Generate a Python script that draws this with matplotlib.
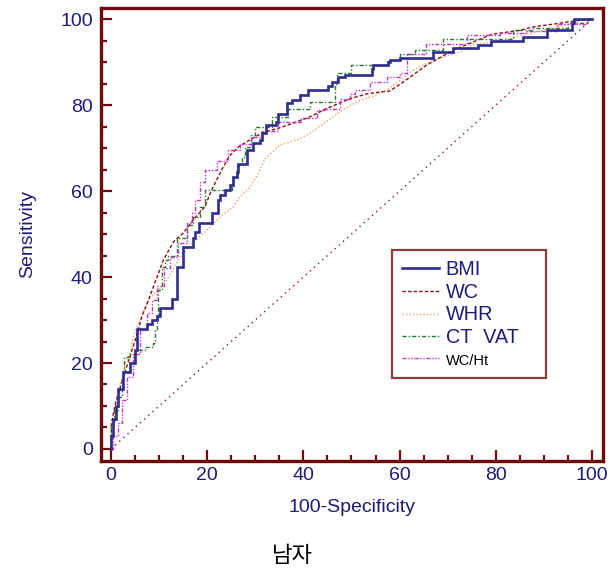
import matplotlib
matplotlib.use("Agg")
import matplotlib.pyplot as plt
from matplotlib.ticker import MultipleLocator

plt.rcParams['font.family'] = ['Liberation Sans', 'DejaVu Sans']

# ---- data ----
bmi_x = [0, 0, 0.5, 1, 1.5, 2.5, 4, 5, 5.5, 7.5, 8.5, 9.5, 10.2, 12.6, 13.7, 15, 17, 17.5, 18.2,
         21, 22.3, 22.7, 23.7, 24.7, 25.4, 26.1, 26.5, 28.2, 29.6, 31, 31.5, 32.2, 34.4, 34.8, 36.5,
         37.6, 39.3, 41, 45.2, 45.9, 47.3, 48.6, 54.2, 54.5, 57.6, 58, 60.1, 67, 71.2, 76.3, 79.1,
         85.7, 90.6, 95.8, 96.2, 100]
bmi_y = [0, 3, 7, 10, 14, 18, 20, 23, 28, 29, 30, 31, 32.7, 35, 42.4, 47, 49, 50.4, 52.5,
         54.8, 57.9, 59, 60.2, 61.4, 63.3, 64.5, 66.4, 69.5, 71.1, 71.9, 73.5, 75.3, 76.1, 78, 80.4,
         81.2, 82.3, 83.5, 84.5, 85.4, 86.5, 87, 88.5, 89.3, 90, 90.5, 90.9, 92.4, 93.2, 94, 95,
         95.9, 97.4, 99, 100, 100]

wc_x = [0, 0.1, 1, 2.2, 3.5, 4.6, 5.5, 6.4, 7.8, 8.8, 10.9, 13, 15, 17.1, 19.5, 20.9, 23, 24.5,
        26.5, 29, 31.5, 35.3, 38.6, 41.2, 44.8, 49.7, 53.5, 58, 60.8, 65.6, 71.2, 75.3, 79.2, 85,
        87.7, 93, 98.9, 100]
wc_y = [0, 6, 11, 15.3, 20, 23.8, 27, 30.8, 34.7, 37.7, 44, 48.2, 50.2, 53.3, 56.3, 60.2, 64.9, 68,
        70.3, 72, 73.6, 74.8, 76.1, 77.2, 79.2, 81.5, 82.7, 83.3, 85.4, 89.3, 92.8, 94.7, 96.5, 97.4,
        98.2, 99, 100, 100]

whr_x = [0, 0.5, 1, 2, 3, 4, 4.6, 6, 8, 11.2, 14, 17, 20, 22.7, 25.4, 26.8, 28.5, 30.6, 32, 35.1,
         38.6, 41, 45.2, 47.6, 51.5, 55, 58, 62.8, 67, 72.6, 75.3, 80.9, 84.3, 90, 96, 100]
whr_y = [0, 5, 10, 15, 20, 22.3, 26.1, 30, 35, 38.5, 44, 48, 51, 54, 56.3, 58.7, 60.4, 64, 67.5, 70.7,
         71.9, 73.2, 76.5, 78.5, 81, 82.3, 84, 88.1, 90.5, 92.4, 94.2, 94.7, 95.9, 97.5, 99, 100]

vat_x = [0, 0, 0.7, 1.5, 2.2, 2.6, 4, 5.3, 7.1, 8.8, 9.2, 9.5, 9.8, 10.5, 11.2, 11.9, 13.7, 15.7,
         17.1, 18.5, 19.5, 25.1, 25.4, 26.1, 27.2, 27.9, 29.2, 29.9, 33.4, 36.9, 41.4, 46.6, 46.9,
         50, 57.6, 60.1, 63.2, 69.1, 83.6, 87.7, 95, 98.9, 100]
vat_y = [0, 6, 9, 12.2, 17, 21.5, 22, 23, 23.8, 24.6, 28, 31.2, 37, 42.4, 44, 45, 49, 52,
         54, 56.3, 60.2, 61.4, 63.3, 66, 68, 70.3, 73, 75, 77.3, 79, 80.8, 85, 87.4,
         89.3, 90.5, 92, 92.8, 95.5, 97.4, 97.9, 99.1, 99.8, 100]

wcht_x = [0, 0.5, 1.5, 2.2, 3.3, 4.5, 6, 7.4, 8.5, 9.5, 11, 12.3, 14, 15.7, 16.8, 17.5, 18.5, 19.5,
          22, 24.4, 26.8, 29.2, 31.5, 34.8, 39.6, 42.8, 44.5, 47.6, 49.7, 50.7, 53.8, 57.3, 60.1,
          61.5, 65.6, 74, 80.9, 86.4, 92.7, 99, 100]
wcht_y = [0, 3, 6, 11.4, 16.8, 22, 27.7, 31.6, 34.7, 38, 42, 44.7, 48, 52.5, 54.8, 58, 62, 64.9,
          67, 69.5, 71, 72.6, 74, 76.1, 76.9, 78.8, 79.2, 81.5, 82.7, 83.5, 85.4, 86.6, 87.4,
          92, 94.3, 96.3, 96.7, 97.2, 98.8, 100, 100]

ref_x = [0, 100]
ref_y = [0, 100]

labels = ['BMI', 'WC', 'WHR', 'CT  VAT', 'WC/Ht']
x_ticks = [0, 20, 40, 60, 80, 100]
y_ticks = [0, 20, 40, 60, 80, 100]

# ---- styling ----
spine_c = '#6e0a0a'
navy = '#1c1c78'

fig = plt.figure(figsize=(6.11, 5.81), dpi=100)
ax = fig.add_axes([101/611, 1-461/581, 502/611, 453/581])

ax.plot(ref_x, ref_y, color='#8b1a1a', lw=1.0, linestyle=(0, (1, 3)))
l_whr, = ax.plot(whr_x, whr_y, color='#f4a060', lw=1.0, linestyle=(0, (1, 1.5)))
l_wc, = ax.plot(wc_x, wc_y, color='#8b1010', lw=1.0, linestyle=(0, (2.5, 1.5)))
l_vat, = ax.plot(vat_x, vat_y, color='#1f7a2a', lw=1.0, linestyle=(0, (3, 1.5, 1, 1.5)),
                 drawstyle='steps-post')
l_wcht, = ax.plot(wcht_x, wcht_y, color='#cc33cc', lw=1.0, linestyle=(0, (3, 1.2, 1, 1.2, 1, 1.2)),
                  drawstyle='steps-post')
l_bmi, = ax.plot(bmi_x, bmi_y, color='#2e2e8e', lw=1.9, drawstyle='steps-post',
                 solid_joinstyle='miter')

ax.set_xlim(-2.08, 102.3)
ax.set_ylim(-2.8, 102.6)
ax.set_xticks(x_ticks)
ax.set_yticks(y_ticks)
ax.xaxis.set_minor_locator(MultipleLocator(5))
ax.yaxis.set_minor_locator(MultipleLocator(5))
ax.tick_params(which='major', direction='in', length=8, width=1.6, color=spine_c,
               labelsize=14, labelcolor=navy, top=False, right=False)
ax.tick_params(which='minor', direction='in', length=4, width=1.6, color=spine_c,
               top=False, right=False)
ax.tick_params(axis='x', which='major', pad=4)
ax.tick_params(axis='y', which='major', pad=6)
for s in ax.spines.values():
    s.set_color(spine_c)
    s.set_linewidth(2.4)

ax.set_xlabel('100-Specificity', fontsize=14, color=navy)
ax.xaxis.set_label_coords(0.5, -0.083)
ax.set_ylabel('Sensitivity', fontsize=14, color=navy)
ax.yaxis.set_label_coords(-0.13, 0.5)

leg = ax.legend([l_bmi, l_wc, l_whr, l_vat, l_wcht], labels,
                loc='upper left', bbox_to_anchor=(392/611, 1-250/581-0.01, 154/611, 0.01),
                bbox_transform=fig.transFigure, mode='expand', borderaxespad=0,
                fontsize=14.3, handlelength=1.85, handletextpad=0.35, labelspacing=0.19,
                borderpad=0.5, frameon=True, fancybox=False)
leg.get_frame().set_edgecolor(spine_c)
leg.get_frame().set_linewidth(1.6)
for i, t in enumerate(leg.get_texts()):
    if i < 4:
        t.set_color(navy)
    else:
        t.set_color('black')
        t.set_fontsize(10.5)

fig.text(292/611, 1-555/581, '남자', ha='center', va='center', fontsize=16,
         family=['Noto Sans CJK KR', 'DejaVu Sans'], color='black')

fig.savefig('out.png', dpi=100)
